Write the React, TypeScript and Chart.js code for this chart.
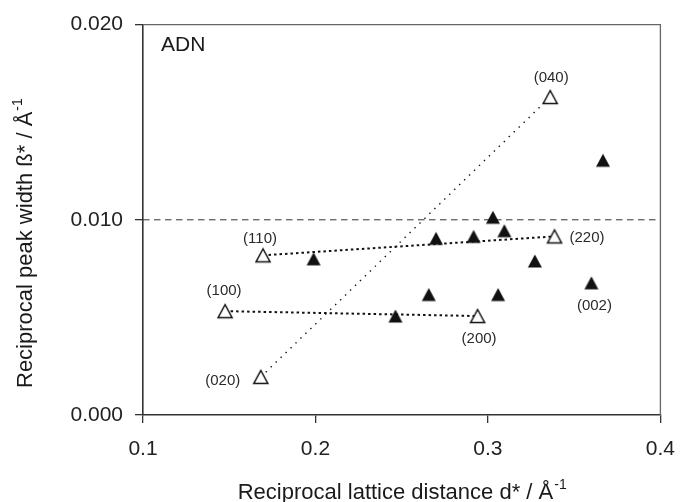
import React, { useEffect, useRef } from "react";
import { Chart, registerables } from "chart.js";

Chart.register(...registerables);

// ---- data ----
const openX = [0.1476, 0.294, 0.1696, 0.3386, 0.1683, 0.3361];
const openY = [0.00532, 0.00507, 0.00818, 0.00915, 0.00195, 0.01629];
const openLabels = ["(100)", "(200)", "(110)", "(220)", "(020)", "(040)"];
const linkPairs = [
  [0, 1],
  [2, 3],
  [4, 5],
];
const filledX = [0.1989, 0.2464, 0.2657, 0.2699, 0.2917, 0.3029, 0.3059, 0.3095, 0.3272, 0.36, 0.3667];
const filledY = [0.008, 0.00507, 0.00617, 0.00905, 0.00915, 0.01013, 0.00617, 0.00944, 0.00789, 0.00677, 0.01305];
const filledLabelIndex = 9;
const filledLabel = "(002)";
const refLineY = 0.01;
const xTicks = [0.1, 0.2, 0.3, 0.4];
const xTickLabels = ["0.1", "0.2", "0.3", "0.4"];
const yTicks = [0.0, 0.01, 0.02];
const yTickLabels = ["0.000", "0.010", "0.020"];
const xTitle = "Reciprocal lattice distance d* / Å";
const yTitle = "Reciprocal peak width ß* / Å";
const unitSup = "-1";
const panelLabel = "ADN";

const FONT = "'Liberation Sans', Arial, Helvetica, sans-serif";

function makeTriangle(filled: boolean): HTMLCanvasElement {
  const c = document.createElement("canvas");
  c.width = 20;
  c.height = 20;
  const g = c.getContext("2d")!;
  g.beginPath();
  g.moveTo(10, 3.5);
  g.lineTo(17, 16.5);
  g.lineTo(3, 16.5);
  g.closePath();
  if (filled) {
    g.fillStyle = "#111";
    g.fill();
  } else {
    g.fillStyle = "#fff";
    g.fill();
    g.lineWidth = 1.5;
    g.strokeStyle = "#111";
    g.stroke();
  }
  return c;
}

// label offsets (pixels) relative to their points
const openLabelOffsets = [
  [-1, -20],
  [1.5, 23],
  [-3, -16],
  [32.5, 1.5],
  [-38, 4],
  [1, -19],
];
const filledLabelOffset = [3, 23];

export default function App() {
  const ref = useRef<HTMLCanvasElement | null>(null);

  useEffect(() => {
    if (!ref.current) return;
    const openImg = makeTriangle(false);
    const filledImg = makeTriangle(true);

    const linkDatasets = linkPairs.map((p, i) => ({
      type: "line" as const,
      data: p.map((k) => ({ x: openX[k], y: openY[k] })),
      borderColor: "#111",
      borderWidth: i === 2 ? 1.4 : 2,
      borderDash: i === 2 ? [1.4, 5.5] : [2.5, 3],
      pointRadius: 0,
      fill: false,
      order: 2,
    }));

    const overlay = {
      id: "overlay",
      afterDatasetsDraw(chart: any) {
        const { ctx, scales } = chart;
        const xs = scales.x;
        const ys = scales.y;
        ctx.save();
        ctx.fillStyle = "#2a2a2a";
        ctx.font = `15px ${FONT}`;
        ctx.textAlign = "center";
        ctx.textBaseline = "middle";
        openLabels.forEach((t, i) => {
          const px = xs.getPixelForValue(openX[i]) + openLabelOffsets[i][0];
          const py = ys.getPixelForValue(openY[i]) + openLabelOffsets[i][1];
          ctx.fillText(t, px, py);
        });
        ctx.fillText(
          filledLabel,
          xs.getPixelForValue(filledX[filledLabelIndex]) + filledLabelOffset[0],
          ys.getPixelForValue(filledY[filledLabelIndex]) + filledLabelOffset[1]
        );
        ctx.restore();
      },
      afterDraw(chart: any) {
        const { ctx, chartArea } = chart;
        ctx.save();
        // frame top + right
        ctx.strokeStyle = "#666";
        ctx.lineWidth = 1.3;
        ctx.beginPath();
        ctx.moveTo(chartArea.left, chartArea.top);
        ctx.lineTo(chartArea.right, chartArea.top);
        ctx.lineTo(chartArea.right, chartArea.bottom);
        ctx.stroke();

        // panel label
        ctx.fillStyle = "#1a1a1a";
        ctx.font = `21px ${FONT}`;
        ctx.textAlign = "left";
        ctx.textBaseline = "alphabetic";
        ctx.fillText(panelLabel, chartArea.left + 18, chartArea.top + 26.5);

        // x title
        ctx.font = `22px ${FONT}`;
        const wMain = ctx.measureText(xTitle).width;
        ctx.font = `14px ${FONT}`;
        const wSup = ctx.measureText(unitSup).width;
        const cx = (chartArea.left + chartArea.right) / 2;
        const x0 = cx - (wMain + wSup) / 2;
        const by = chartArea.bottom + 84;
        ctx.font = `22px ${FONT}`;
        ctx.fillText(xTitle, x0, by);
        ctx.font = `14px ${FONT}`;
        ctx.fillText(unitSup, x0 + wMain + 1, by - 10);

        // y title
        ctx.translate(31.7, 388);
        ctx.rotate(-Math.PI / 2);
        ctx.font = `22px ${FONT}`;
        const wy = ctx.measureText(yTitle).width;
        ctx.fillText(yTitle, 0, 0);
        ctx.font = `14px ${FONT}`;
        ctx.fillText(unitSup, wy + 1, -10);
        ctx.restore();
      },
    };

    const chart = new Chart(ref.current, {
      type: "scatter",
      data: {
        datasets: [
          {
            type: "scatter",
            data: openX.map((x, i) => ({ x, y: openY[i] })),
            pointStyle: openImg,
            pointRadius: 8,
            order: 0,
          },
          {
            type: "scatter",
            data: filledX.map((x, i) => ({ x, y: filledY[i] })),
            pointStyle: filledImg,
            pointRadius: 8,
            order: 0,
          },
          ...linkDatasets,
          {
            type: "line",
            data: [
              { x: xTicks[0], y: refLineY },
              { x: xTicks[xTicks.length - 1], y: refLineY },
            ],
            borderColor: "#333",
            borderWidth: 1,
            borderDash: [6.5, 4.5],
            pointRadius: 0,
            fill: false,
            order: 3,
          },
        ] as any,
      },
      options: {
        responsive: false,
        animation: false,
        events: [],
        layout: { padding: { left: 0, right: 16.5, top: 22, bottom: 0 } },
        plugins: {
          legend: { display: false },
          tooltip: { enabled: false },
          title: { display: false },
        },
        scales: {
          x: {
            type: "linear",
            min: xTicks[0],
            max: xTicks[xTicks.length - 1],
            afterBuildTicks: (s: any) => {
              s.ticks = xTicks.map((v) => ({ value: v }));
            },
            afterFit: (s: any) => {
              s.height = 87;
            },
            ticks: {
              callback: (v: any) => {
                const i = xTicks.findIndex((t) => Math.abs(t - v) < 1e-9);
                return i >= 0 ? xTickLabels[i] : "";
              },
              color: "#222",
              font: { family: FONT, size: 21 },
              padding: 14,
              maxRotation: 0,
              autoSkip: false,
            },
            grid: {
              display: true,
              drawOnChartArea: false,
              drawTicks: true,
              tickLength: 8,
              color: "#333",
              lineWidth: 1.3,
            },
            border: { display: true, color: "#333", width: 1.6 },
          },
          y: {
            type: "linear",
            min: yTicks[0],
            max: yTicks[yTicks.length - 1],
            afterBuildTicks: (s: any) => {
              s.ticks = yTicks.map((v) => ({ value: v }));
            },
            afterFit: (s: any) => {
              s.width = 143;
            },
            ticks: {
              callback: (v: any) => {
                const i = yTicks.findIndex((t) => Math.abs(t - v) < 1e-9);
                return i >= 0 ? yTickLabels[i] : "";
              },
              color: "#222",
              font: { family: FONT, size: 21 },
              padding: 12,
              autoSkip: false,
            },
            grid: {
              display: true,
              drawOnChartArea: false,
              drawTicks: true,
              tickLength: 8,
              color: "#333",
              lineWidth: 1.3,
            },
            border: { display: true, color: "#333", width: 1.6 },
          },
        },
      } as any,
      plugins: [overlay],
    });
    return () => chart.destroy();
  }, []);

  return (
    <div style={{ position: "absolute", left: 0, top: 0, width: 689, height: 502, background: "#fff" }}>
      <canvas ref={ref} width={689} height={502} style={{ display: "block", width: 689, height: 502 }} />
    </div>
  );
}
